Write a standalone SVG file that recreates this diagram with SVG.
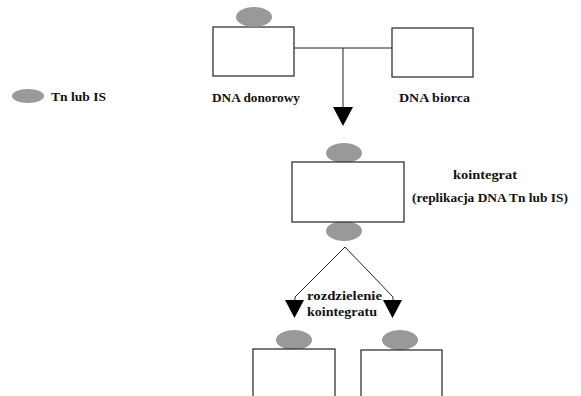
<svg xmlns="http://www.w3.org/2000/svg" width="581" height="396" viewBox="0 0 581 396">
<style>
.box{fill:#fff;stroke:#333;stroke-width:1.3}
.tn{fill:#999;stroke:none}
.ln{fill:none;stroke:#222;stroke-width:1}
.ah{fill:#000}
text{font-family:'Liberation Serif','Times New Roman','DejaVu Serif',serif;font-weight:bold;font-size:13.5px;fill:#111}
</style>
<rect width="581" height="396" fill="#fff"/>
<g id="legend">
<ellipse class="tn" cx="28" cy="96" rx="16" ry="7"/>
<text x="51" y="101" textLength="55" lengthAdjust="spacingAndGlyphs">Tn lub IS</text>
</g>
<g id="connectors">
<path class="ln" d="M294 48 H392 M343 48 V108"/>
<polygon class="ah" points="333,107 353,107 343,126"/>
<path class="ln" d="M345 247 L295 297 V301 M345 247 L393 297 V301"/>
<polygon class="ah" points="285,300 304,300 294.5,318"/>
<polygon class="ah" points="383,300 402,300 392.5,318"/>
</g>
<g id="donor">
<rect class="box" x="213" y="27" width="81" height="49"/>
<ellipse class="tn" cx="254" cy="17" rx="18" ry="10"/>
<text x="212" y="102" textLength="88" lengthAdjust="spacingAndGlyphs">DNA donorowy</text>
</g>
<g id="recipient">
<rect class="box" x="392" y="28" width="81" height="49"/>
<text x="399" y="102" textLength="71" lengthAdjust="spacingAndGlyphs">DNA biorca</text>
</g>
<g id="cointegrate">
<ellipse class="tn" cx="344" cy="153" rx="18" ry="10"/>
<ellipse class="tn" cx="344" cy="231" rx="18" ry="10"/>
<rect class="box" x="292" y="162" width="112" height="60"/>
<text x="453" y="179" textLength="64" lengthAdjust="spacingAndGlyphs">kointegrat</text>
<text x="412" y="202" textLength="156" lengthAdjust="spacingAndGlyphs">(replikacja DNA Tn lub IS)</text>
</g>
<g id="resolution">
<text x="307" y="300" textLength="75" lengthAdjust="spacingAndGlyphs">rozdzielenie</text>
<text x="307" y="316" textLength="70" lengthAdjust="spacingAndGlyphs">kointegratu</text>
</g>
<g id="product1">
<ellipse class="tn" cx="294" cy="340" rx="18" ry="10"/>
<rect class="box" x="253" y="349" width="82" height="60"/>
</g>
<g id="product2">
<ellipse class="tn" cx="400" cy="340" rx="18" ry="10"/>
<rect class="box" x="361" y="350" width="81" height="60"/>
</g>
</svg>
